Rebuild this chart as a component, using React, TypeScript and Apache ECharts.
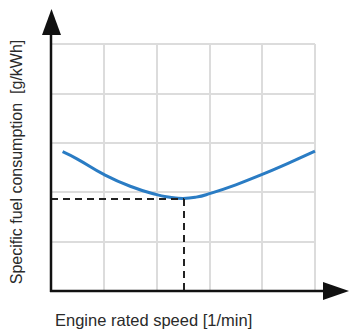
import React, { useEffect, useRef } from "react";
import * as echarts from "echarts";

const speedValues: number[] = [0.22, 0.5, 1.0, 1.5, 2.0, 2.25, 2.5, 2.75, 3.0, 3.5, 4.0, 4.5, 5.0];
const fuelValues: number[] = [2.82, 2.67, 2.36, 2.12, 1.95, 1.9, 1.875, 1.9, 1.97, 2.15, 2.36, 2.59, 2.83];
const optimumPoint: number[] = [2.52, 1.86];
const xTitle = "Engine rated speed [1/min]";
const yTitle = "Specific fuel consumption  [g/kWh]";

export default function App() {
  const ref = useRef<HTMLDivElement>(null);
  useEffect(() => {
    if (!ref.current) return;
    const chart = echarts.init(ref.current, null, { renderer: "svg" });
    const data = speedValues.map((x, i) => [x, fuelValues[i]]);
    const font = "'Liberation Sans', Arial, Helvetica, sans-serif";
    chart.setOption({
      animation: false,
      backgroundColor: "#ffffff",
      grid: { left: 51, right: 35, top: 44, bottom: 41 },
      xAxis: {
        type: "value",
        min: 0,
        max: 5,
        interval: 1,
        axisLine: { show: false },
        axisTick: { show: false },
        axisLabel: { show: false },
        splitLine: { show: true, lineStyle: { color: "#dcdcdc", width: 2 } },
      },
      yAxis: {
        type: "value",
        min: 0,
        max: 5,
        interval: 1,
        axisLine: { show: false },
        axisTick: { show: false },
        axisLabel: { show: false },
        splitLine: { show: true, lineStyle: { color: "#dcdcdc", width: 2 } },
      },
      series: [
        {
          type: "line",
          data,
          smooth: 0.5,
          showSymbol: false,
          lineStyle: { color: "#2a7cc4", width: 3 },
          markLine: {
            silent: true,
            symbol: "none",
            label: { show: false },
            lineStyle: { color: "#222", type: [7, 5], width: 2 },
            data: [
              [{ coord: [0, optimumPoint[1]] }, { coord: [optimumPoint[0], optimumPoint[1]] }],
              [{ coord: [optimumPoint[0], optimumPoint[1]] }, { coord: [optimumPoint[0], 0] }],
            ],
          },
          z: 3,
        },
      ],
      graphic: [
        { type: "line", shape: { x1: 51, y1: 292, x2: 51, y2: 30 }, style: { stroke: "#111", lineWidth: 2.5 }, z: 10 },
        { type: "line", shape: { x1: 50, y1: 291, x2: 326, y2: 291 }, style: { stroke: "#111", lineWidth: 2.5 }, z: 10 },
        { type: "polygon", shape: { points: [[42, 35], [51.5, 9], [61, 35]] }, style: { fill: "#111" }, z: 10 },
        { type: "polygon", shape: { points: [[323, 282], [349, 291], [323, 300]] }, style: { fill: "#111" }, z: 10 },
        {
          type: "text",
          x: 55,
          y: 320,
          style: { text: xTitle, fill: "#2a2a2a", font: `16.5px ${font}`, verticalAlign: "middle", align: "left" },
        },
        {
          type: "text",
          x: 16,
          y: 162,
          rotation: Math.PI / 2,
          style: { text: yTitle, fill: "#2a2a2a", font: `16px ${font}`, verticalAlign: "middle", align: "center" },
        },
      ],
    });
    return () => chart.dispose();
  }, []);
  return <div ref={ref} style={{ width: 350, height: 332, position: "absolute", left: 0, top: 0 }} />;
}
